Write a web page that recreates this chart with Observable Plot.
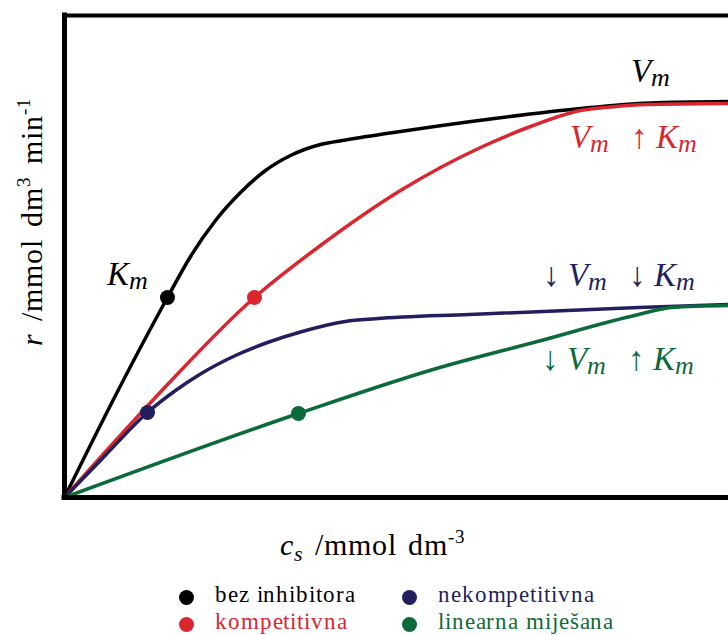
<!DOCTYPE html>
<html><head><meta charset="utf-8">
<script src="https://cdn.jsdelivr.net/npm/d3@7"></script>
<script src="https://cdn.jsdelivr.net/npm/@observablehq/plot@0.6"></script>
<style>
@font-face{font-family:"RefSerif";src:local("Liberation Serif"),local("LiberationSerif");font-style:normal;font-weight:400;}
@font-face{font-family:"RefSerif";src:local("Liberation Serif Italic"),local("LiberationSerif-Italic");font-style:italic;font-weight:400;}
body{margin:0;background:#fff;}
#wrap{position:relative;width:728px;height:635px;overflow:hidden;background:#fff;}
#wrap svg{display:block;}
</style></head><body><div id="wrap"></div>
<script>
// ---- data (cs and r in arbitrary units; the reference has no tick values) ----
const seriesNames = ["bez inhibitora", "kompetitivna", "nekompetitivna", "linearna miješana"];
const seriesColors = ["#000000", "#d9262f", "#231f5e", "#0b6a3a"];

const csBez = [0, 0.768, 1.551, 1.898, 2.274, 2.651, 3.027, 3.404, 3.855, 4.232, 5.060, 6.416, 7.771, 8.825, 10];
const rBez  = [0, 2.55, 5.00, 6.025, 6.925, 7.625, 8.175, 8.55, 8.825, 8.9375, 9.15, 9.4625, 9.725, 9.8625, 9.90];

const csKomp = [0, 1.340, 2.861, 3.855, 5.060, 6.265, 7.018, 7.771, 8.223, 8.780, 10];
const rKomp  = [0, 2.45, 5.00, 6.30, 7.675, 8.75, 9.275, 9.675, 9.763, 9.825, 9.85];

const csNekomp = [0, 0.542, 1.250, 1.672, 2.048, 2.575, 3.057, 3.554, 4.232, 4.684, 6.099, 8.645, 10];
const rNekomp  = [0, 0.925, 2.125, 2.675, 3.088, 3.55, 3.875, 4.138, 4.40, 4.468, 4.575, 4.75, 4.825];

const csLin = [0, 3.524, 5.602, 7.123, 8.645, 9.142, 10];
const rLin  = [0, 2.10, 3.225, 3.90, 4.575, 4.75, 4.80];

// Km points
const kmCs = [1.551, 2.861, 1.250, 3.524];
const kmR  = [5.00, 5.00, 2.125, 2.10];

const yTop = 12.05;

const serif = "RefSerif, \"Liberation Serif\", serif";

// ---- build tables ----
const curveX = [csBez, csKomp, csNekomp, csLin];
const curveY = [rBez, rKomp, rNekomp, rLin];
const rows = [];
seriesNames.forEach((s, i) => curveX[i].forEach((x, j) => rows.push({series: s, cs: x, r: curveY[i][j]})));
const kmRows = seriesNames.map((s, i) => ({series: s, cs: kmCs[i], r: kmR[i]}));

const plot = Plot.plot({
  width: 728, height: 570,
  marginLeft: 64, marginRight: 0, marginTop: 15, marginBottom: 73,
  x: {domain: [0, 10], axis: null},
  y: {domain: [0, yTop], axis: null},
  color: {domain: seriesNames, range: seriesColors},
  style: {background: "white", overflow: "visible"},
  marks: [
    Plot.line(rows, {x: "cs", y: "r", z: "series", stroke: "series", strokeWidth: 3.5, curve: "monotone-x"}),
    Plot.dot(kmRows, {x: "cs", y: "r", fill: "series", r: 7.5}),
    Plot.ruleY([0], {stroke: "#000", strokeWidth: 5, strokeLinecap: "square"}),
    Plot.ruleY([yTop], {stroke: "#000", strokeWidth: 4, strokeLinecap: "square"}),
    Plot.ruleX([0], {stroke: "#000", strokeWidth: 5, strokeLinecap: "square"})
  ]
});
const wrap = document.getElementById("wrap");
wrap.appendChild(plot);
const sx = plot.scale("x"), sy = plot.scale("y");

// ---- text helper: HTML text placed on a baseline ----
function addText(o) {
  const k = 0.3375 * o.fs; // baseline offset for line-height:0 (Liberation Serif metrics)
  const d = document.createElement("div");
  Object.assign(d.style, {
    position: "absolute", left: o.x + "px", top: o.y + "px", lineHeight: "0",
    whiteSpace: "nowrap", color: o.color || "#000", transformOrigin: "0 0",
    fontFamily: serif, fontSize: o.fs + "px",
    letterSpacing: (o.ls || 0) + "px", wordSpacing: (o.ws || 0) + "px"
  });
  const tx = o.anchor === "middle" ? "-50%" : "0px";
  d.style.transform = (o.rotate ? "rotate(-90deg) " : "") + "translate(" + tx + "," + (-k) + "px)";
  o.parts.forEach(p => {
    const sp = document.createElement("span");
    sp.textContent = p.t;
    sp.style.fontFamily = serif;
    sp.style.fontSize = (p.fs || o.fs) + "px";
    sp.style.fontStyle = p.it ? "italic" : "normal";
    if (p.shift) { sp.style.position = "relative"; sp.style.top = p.shift + "px"; }
    if (p.gap) sp.style.marginLeft = p.gap + "px";
    d.appendChild(sp);
  });
  wrap.appendChild(d);
}

// annotation labels
const V = {t: "V", it: 1}, K = {t: "K", it: 1}, M = {t: "m", it: 1, fs: 26, shift: 4};
const annotations = [
  {x: 8.54, y: 10.38, color: seriesColors[0], parts: [V, M]},
  {x: 0.65, y: 5.30, color: seriesColors[0], parts: [K, M]},
  {x: 7.62, y: 8.73, color: seriesColors[1], parts: [V, M, {t: "↑", gap: 22}, {...K, gap: 8}, M]},
  {x: 7.21, y: 5.28, color: seriesColors[2], parts: [{t: "↓"}, {...V, gap: 8}, M, {t: "↓", gap: 22}, {...K, gap: 8}, M]},
  {x: 7.20, y: 3.18, color: seriesColors[3], parts: [{t: "↓"}, {...V, gap: 8}, M, {t: "↑", gap: 22}, {...K, gap: 8}, M]}
];
annotations.forEach(a => addText({x: sx.apply(a.x), y: sy.apply(a.y), fs: 33, color: a.color, parts: a.parts}));

// axis titles
addText({x: 373, y: 555, fs: 30, anchor: "middle", ls: 1, ws: 2, parts: [
  {t: "c", it: 1}, {t: "s", it: 1, fs: 22, shift: 6}, {t: " /mmol dm"}, {t: "-3", fs: 19, shift: -12}
]});
addText({x: 42, y: 221, fs: 30, anchor: "middle", rotate: 1, ls: 1, ws: 3, parts: [
  {t: "r", it: 1}, {t: " /mmol dm"}, {t: "3", fs: 19, shift: -12}, {t: " min"}, {t: "-1", fs: 19, shift: -12}
]});

// legend below the chart
const legendDots = [[186, 597], [186, 624], [409, 597], [409, 624]];
const legendBase = [603, 630, 603, 630];
seriesNames.forEach((s, i) => {
  const [cx, cy] = legendDots[i];
  const dot = document.createElement("div");
  Object.assign(dot.style, {position: "absolute", left: (cx - 7.5) + "px", top: (cy - 7.5) + "px",
    width: "15px", height: "15px", borderRadius: "50%", background: seriesColors[i]});
  wrap.appendChild(dot);
  addText({x: cx + 29, y: legendBase[i], fs: 23, ls: 0.9, color: seriesColors[i], parts: [{t: s}]});
});
</script></body></html>
